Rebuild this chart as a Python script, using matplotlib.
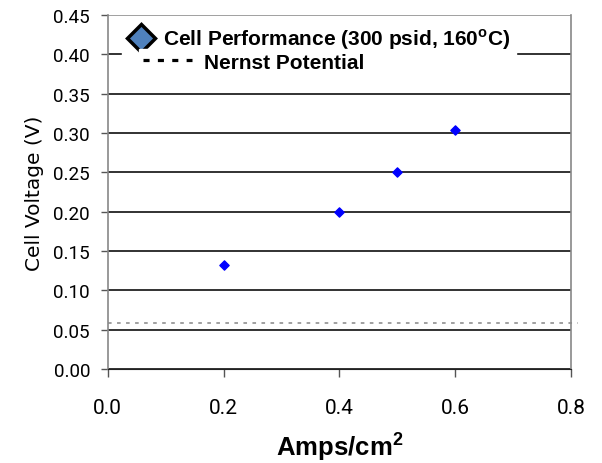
import matplotlib.pyplot as plt
from matplotlib.lines import Line2D

current = [0.2, 0.4, 0.5, 0.6]
voltage = [0.132, 0.199, 0.250, 0.304]
nernst = 0.058

x_ticks = [0.0, 0.2, 0.4, 0.6, 0.8]
y_ticks = [0.00, 0.05, 0.10, 0.15, 0.20, 0.25, 0.30, 0.35, 0.40, 0.45]

plt.rcParams['mathtext.fontset'] = 'custom'
plt.rcParams['mathtext.rm'] = 'Liberation Sans'
plt.rcParams['mathtext.bf'] = 'Liberation Sans:bold'

fig = plt.figure(figsize=(6.02, 4.64), dpi=100)
ax = fig.add_axes([0.179, 0.2026, 0.7695, 0.763])

# horizontal grid lines, top one lighter
for y in y_ticks[:-1]:
    ax.axhline(y, color='#222222', lw=1.3, zorder=1)
ax.axhline(y_ticks[-1], color='#999999', lw=1.3, zorder=1)

ax.axhline(nernst, xmin=0, xmax=1.015, color='#999999', lw=1.3,
           ls=(0, (2, 3)), clip_on=False, zorder=2)
ax.scatter(current, voltage, marker='D', s=22, color='#0000ff', zorder=3)

ax.set_xlim(0, 0.8)
ax.set_ylim(0, 0.45)
ax.set_xticks(x_ticks)
ax.set_yticks(y_ticks)
ax.set_xticklabels([f'{v:.1f}' for v in x_ticks], family='Roboto', fontsize=15)
ax.set_yticklabels([f'{v:.2f}' for v in y_ticks], family='Roboto', fontsize=13.6)
ax.tick_params(axis='both', direction='out', color='#555555', width=1)
ax.tick_params(axis='x', length=5.8, pad=15)
ax.tick_params(axis='y', length=4.7, pad=8)

for side in ['left', 'right']:
    ax.spines[side].set_color('#888888')
    ax.spines[side].set_linewidth(1.2)
ax.spines['top'].set_visible(False)
ax.spines['bottom'].set_color('#222222')

ax.set_xlabel('Amps/cm$^\\mathbf{2}$', fontsize=18.5, fontweight='bold',
              family='Liberation Sans', labelpad=9)
ax.set_ylabel('Cell Voltage (V)', fontsize=14.5, family='DejaVu Sans', labelpad=7)

leg_font = {'family': 'Liberation Sans', 'weight': 'bold', 'size': 15}

diamond = Line2D([], [], marker='D', ls='none', markersize=14.5, markerfacecolor='#4F81BD',
                 markeredgecolor='black', markeredgewidth=2.5)
leg1 = ax.legend([diamond], ['Cell Performance (300 psid, 160$^\\mathbf{o}$C)'],
                 loc='upper left', bbox_to_anchor=(0.031, 0.985), prop=leg_font,
                 frameon=True, fancybox=False, framealpha=1, edgecolor='white',
                 handlelength=1.2, handletextpad=0.45, borderpad=0.3, borderaxespad=0)
leg1.set_zorder(5)
ax.add_artist(leg1)

dashes = Line2D([], [], color='black', ls=(0, (1.9, 2.6)), lw=2.3)
leg2 = ax.legend([dashes], ['Nernst Potential'],
                 loc='upper left', bbox_to_anchor=(0.0665, 0.905), prop=leg_font,
                 frameon=True, fancybox=False, framealpha=1, edgecolor='white',
                 handlelength=2.36, handletextpad=0.58, borderpad=0.2, borderaxespad=0)
leg2.set_zorder(6)

fig.savefig('out.png', dpi=100)
